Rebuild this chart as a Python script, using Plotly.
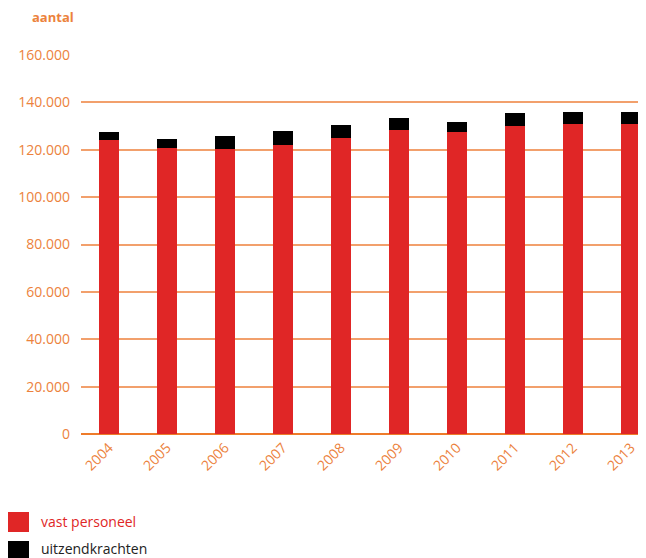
import plotly.graph_objects as go

years = ["2004", "2005", "2006", "2007", "2008", "2009", "2010", "2011", "2012", "2013"]
vast_personeel = [124100, 120900, 120400, 122000, 125100, 128500, 127600, 130100, 131000, 131000]
uitzendkrachten = [3500, 3800, 5500, 6000, 5500, 5000, 4200, 5500, 5100, 5100]
y_ticks = [0, 20000, 40000, 60000, 80000, 100000, 120000, 140000, 160000]
y_tick_labels = ["0", "20.000", "40.000", "60.000", "80.000", "100.000", "120.000", "140.000", "160.000"]

RED = "#E02626"
ORANGE = "#EC823C"
GRID = "#F2A06C"
FONT = "Open Sans"

fig = go.Figure()
fig.add_trace(go.Bar(x=years, y=vast_personeel, name="vast personeel",
                     marker=dict(color=RED, line=dict(width=0)), width=0.345))
fig.add_trace(go.Bar(x=years, y=uitzendkrachten, name="uitzendkrachten",
                     marker=dict(color="#000000", line=dict(width=0)), width=0.345))

# page body has an 8px margin, so the figure is offset by 8px
OFF = 8
W, H = 646 - OFF, 558 - OFF
L, R, T = 81 - OFF, 0, 55 - OFF
B = H - (434 - OFF)
pw = W - L - R
ph = H - T - B

def px(x):
    return (x - OFF - L) / pw

def py(y):
    return (H - B - (y - OFF)) / ph

fig.update_layout(
    width=W, height=H,
    margin=dict(l=L, r=R, t=T, b=B),
    barmode="stack",
    showlegend=False,
    plot_bgcolor="white", paper_bgcolor="white",
    font=dict(family=FONT, color=ORANGE, size=14),
    xaxis=dict(type="category", range=[-0.483, 9.26], showgrid=False,
               showline=False, zeroline=False,
               tickangle=-45, tickfont=dict(size=14, color=ORANGE),
               ticks="", ticklabelstandoff=2),
    yaxis=dict(range=[0, 160000], tickvals=y_ticks, ticktext=y_tick_labels,
               showgrid=True, gridcolor=GRID, gridwidth=1.5,
               zeroline=True, zerolinecolor="#EE7B2A", zerolinewidth=1.5,
               showline=False, ticks="", ticklabelstandoff=10,
               tickfont=dict(size=14, color=ORANGE)),
)

# title of y axis (left edge ~x=30, centre ~y=17 in page pixels)
fig.add_annotation(text="<b>aantal</b>", xref="paper", yref="paper",
                   x=px(30), y=py(17),
                   xanchor="left", yanchor="middle",
                   showarrow=False, font=dict(size=13, color=ORANGE, family=FONT))

# manual legend
legend_items = [("vast personeel", RED, RED, 512, 521), ("uitzendkrachten", "#000000", "#222222", 541, 548)]
for name, col, tcol, top, mid in legend_items:
    fig.add_shape(type="rect", xref="paper", yref="paper",
                  x0=px(8), x1=px(29), y0=py(top), y1=py(top + 20),
                  fillcolor=col, line=dict(width=0))
    fig.add_annotation(text=name, xref="paper", yref="paper",
                       x=px(39), y=py(mid), xanchor="left", yanchor="middle",
                       showarrow=False, font=dict(size=14, color=tcol, family=FONT))

fig.write_html("out.html")
